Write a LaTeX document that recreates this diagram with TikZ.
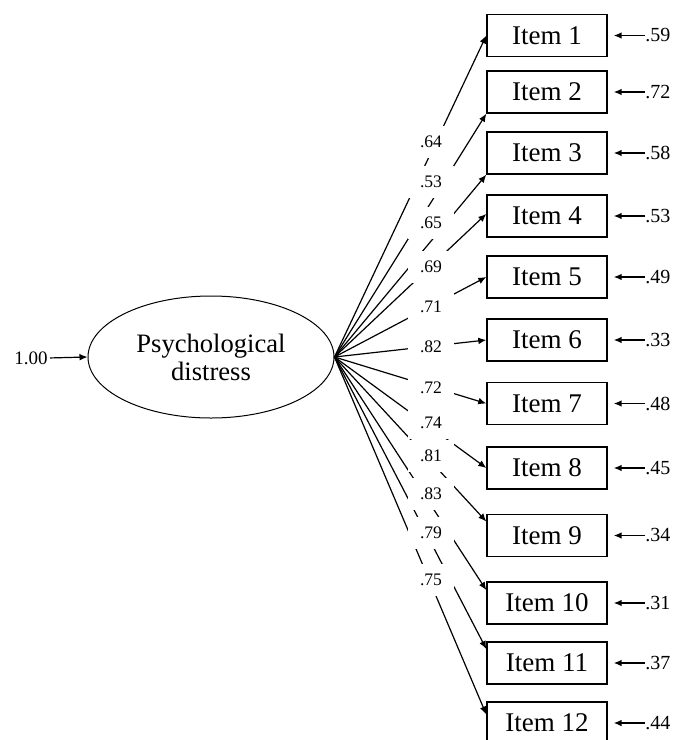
\documentclass[tikz,border=0pt]{standalone}
\usepackage{fontspec}
\setmainfont{Liberation Serif}
\usetikzlibrary{shapes.geometric,arrows.meta}

\begin{document}
\begin{tikzpicture}[x=0.5pt, y=-0.5pt, >={Latex[length=4pt,width=3.4pt]},
		itembox/.style={draw, line width=0.7pt, minimum width=60pt, minimum height=21pt, inner sep=0pt, font=\fontsize{13.5}{15}\selectfont},
		latent/.style={ellipse, draw, line width=0.5pt, minimum width=123pt, minimum height=61pt, inner sep=0pt, align=center, font=\fontsize{13.3}{15}\selectfont},
		loading/.style={fill=white, inner xsep=6pt, inner ysep=5pt, font=\fontsize{8.8}{10}\selectfont},
		resid/.style={anchor=west, inner sep=0pt, font=\fontsize{10}{12}\selectfont},
		regline/.style={line width=0.6pt, ->}]
			\useasboundingbox (0,0) rectangle (685,740);
			% the latent factor and its variance
			\node[latent] (pd) at (211,357) {Psychological\\[-1pt]distress};
			\node[anchor=east, inner sep=0pt, font=\fontsize{9.5}{11}\selectfont] (var) at (48,358) {1.00};
			\draw[regline, shorten <=1pt] (var.east) -- (pd.west);
			% the twelve observed items, with their error terms
			\foreach \i/\y/\e in {1/35.5/.59, 2/92/.72, 3/153/.58, 4/216/.53, 5/277/.49, 6/340/.33,
				7/403.5/.48, 8/468/.45, 9/535.5/.34, 10/603/.31, 11/663/.37, 12/723/.44} {
				\node[itembox] (item\i) at (547,\y) {Item \i};
				\node[resid] (e\i) at (645,\y) {\e};
				\draw[regline, line width=0.75pt, shorten >=3pt] (e\i.west) -- (item\i.east);
			}
			% factor loadings, fanning out from one point of the ellipse
			\foreach \i/\a in {1/180, 2/south west, 3/south west, 4/178, 5/180, 6/180,
				7/180, 8/180, 9/167, 10/168, 11/167, 12/172}
				\draw[regline] (pd.east) -- (item\i.\a);
			% loading values sit on a column, masking the lines behind them
			\foreach \i/\y/\l in {1/142/.64, 2/182/.53, 3/223/.65, 4/267/.69, 5/307/.71, 6/347/.82,
				7/388/.72, 8/423/.74, 9/456/.81, 10/494/.83, 11/533/.79, 12/580/.75}
				\node[loading] (l\i) at (431,\y) {\l};
		\end{tikzpicture}
\end{document}
